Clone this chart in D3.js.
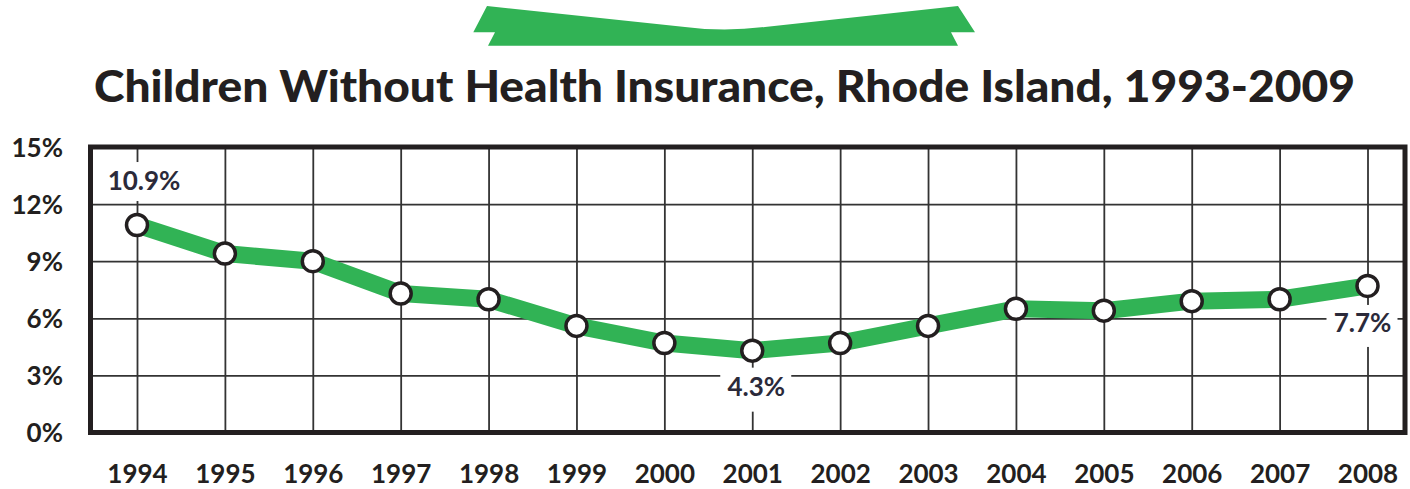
<!DOCTYPE html>
<html>
<head>
<meta charset="utf-8">
<script src="https://cdn.jsdelivr.net/npm/d3@7"></script>
<style>
  html, body { margin: 0; padding: 0; background: #ffffff; }
  svg { display: block; }
  text { font-family: Lato, "Open Sans", sans-serif; }
</style>
</head>
<body>
<svg id="chart" width="1410" height="489"></svg>
<script>
const titleText = "Children Without Health Insurance, Rhode Island, 1993-2009";
const years = [1994, 1995, 1996, 1997, 1998, 1999, 2000, 2001, 2002, 2003, 2004, 2005, 2006, 2007, 2008];
const uninsured = [10.9, 9.4, 9.0, 7.3, 7.0, 5.6, 4.7, 4.3, 4.7, 5.6, 6.5, 6.4, 6.9, 7.0, 7.7];
const yTicks = [0, 3, 6, 9, 12, 15];
const labeledYears = [1994, 2001, 2008];

const GREEN = "#31b355";
const INK = "#231f20";

const svg = d3.select("#chart");

// decorative banner at top
const banner = d3.path();
banner.moveTo(487, 6);
banner.lineTo(685, 27);
banner.quadraticCurveTo(724, 32, 765, 27);
banner.lineTo(958, 6);
banner.lineTo(975, 32.3);
banner.lineTo(951, 32.3);
banner.lineTo(958, 45.7);
banner.lineTo(488, 45.7);
banner.lineTo(495, 32.3);
banner.lineTo(473.3, 32.3);
banner.closePath();
svg.append("path").attr("d", banner.toString()).attr("fill", GREEN);

// title
svg.append("text")
  .attr("x", 94).attr("y", 102)
  .attr("textLength", 1261).attr("lengthAdjust", "spacingAndGlyphs")
  .style("font-size", "43px").style("font-weight", 900).attr("fill", INK)
  .text(titleText);

const pLeft = 90.5, pRight = 1405, pTop = 147, pBottom = 432.5;
const x = d3.scaleLinear().domain([1994, 2008]).range([137, 1367.5]);
const y = d3.scaleLinear().domain([0, 15]).range([pBottom, pTop]);

// gridlines
const grid = svg.append("g");
grid.append("g")
  .attr("transform", `translate(0,${pBottom})`)
  .call(d3.axisBottom(x).tickValues(years).tickSize(-(pBottom - pTop)).tickFormat(""))
  .call(g => g.select(".domain").remove())
  .call(g => g.selectAll("line").attr("stroke", "#333").attr("stroke-width", 1.8));
grid.append("g")
  .attr("transform", `translate(${pLeft},0)`)
  .call(d3.axisLeft(y).tickValues([3, 6, 9, 12]).tickSize(-(pRight - pLeft)).tickFormat(""))
  .call(g => g.select(".domain").remove())
  .call(g => g.selectAll("line").attr("stroke", "#333").attr("stroke-width", 1.8));

// white boxes behind the value labels
const labelData = years.map((yr, i) => ({ yr, v: uninsured[i] })).filter(d => labeledYears.includes(d.yr));
const labelOffset = { 1994: { dx: 7, dy: -35 }, 2001: { dx: 4, dy: 45 }, 2008: { dx: -5, dy: 46 } };
const labelBox = { 1994: [-34, -28, 80, 39], 2001: [-36, -28, 71, 44], 2008: [-36, -27, 71, 42] };

labelData.forEach(d => {
  const o = labelOffset[d.yr];
  const b = labelBox[d.yr];
  const lx = x(d.yr) + o.dx, ly = y(d.v) + o.dy;
  svg.append("rect")
    .attr("x", lx + b[0]).attr("y", ly + b[1]).attr("width", b[2]).attr("height", b[3])
    .attr("fill", "#fff");
});

// frame
svg.append("rect")
  .attr("x", pLeft).attr("y", pTop).attr("width", pRight - pLeft).attr("height", pBottom - pTop)
  .attr("fill", "none").attr("stroke", INK).attr("stroke-width", 5);

// line
const line = d3.line().x((d, i) => x(years[i])).y(d => y(d));
svg.append("path")
  .datum(uninsured)
  .attr("d", line)
  .attr("fill", "none").attr("stroke", GREEN).attr("stroke-width", 17)
  .attr("stroke-linejoin", "round");

// markers
svg.append("g").selectAll("circle")
  .data(uninsured)
  .join("circle")
  .attr("cx", (d, i) => x(years[i])).attr("cy", d => y(d)).attr("r", 10.5)
  .attr("fill", "#fff").attr("stroke", INK).attr("stroke-width", 3.5);

// value labels
labelData.forEach(d => {
  const o = labelOffset[d.yr];
  svg.append("text")
    .attr("x", x(d.yr) + o.dx).attr("y", y(d.v) + o.dy)
    .attr("text-anchor", "middle")
    .style("font-size", "26px").style("font-weight", 700).attr("fill", "#2b2a3a")
    .text(d3.format(".1f")(d.v) + "%");
});

// y axis labels
svg.append("g")
  .attr("transform", `translate(63,0)`)
  .call(d3.axisLeft(y).tickValues(yTicks).tickSize(0).tickPadding(0).tickFormat(d => d + "%"))
  .call(g => g.select(".domain").remove())
  .call(g => g.selectAll("text")
    .style("font-family", "Lato, sans-serif").style("font-size", "26px").style("font-weight", 700)
    .attr("fill", INK).attr("dy", "0.36em"));

// x axis labels
svg.append("g")
  .attr("transform", `translate(0,483)`)
  .call(d3.axisBottom(x).tickValues(years).tickSize(0).tickPadding(0).tickFormat(d3.format("d")))
  .call(g => g.select(".domain").remove())
  .call(g => g.selectAll("text")
    .style("font-family", "Lato, sans-serif").style("font-size", "26px").style("font-weight", 700)
    .attr("fill", INK).attr("dy", 0));
</script>
</body>
</html>
